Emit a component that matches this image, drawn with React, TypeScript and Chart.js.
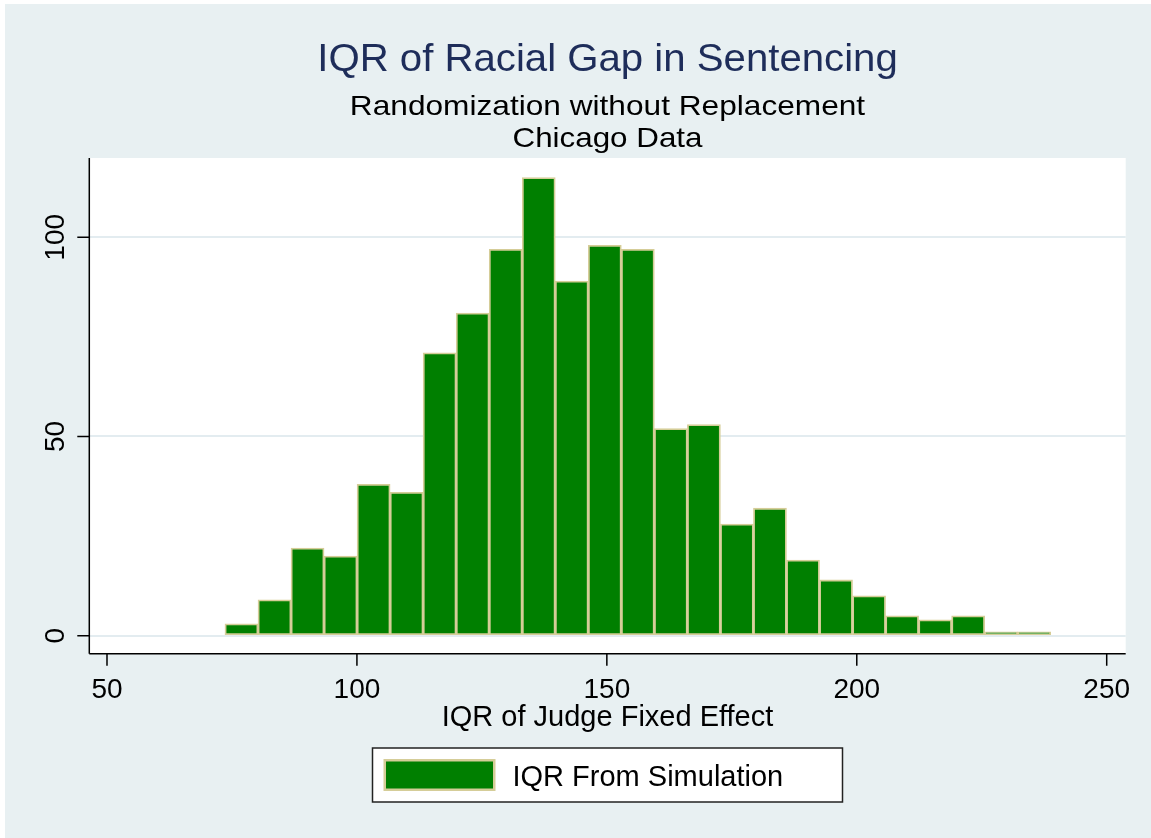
import { useEffect, useRef } from "react";
import { Chart, registerables } from "chart.js";

Chart.register(...registerables);

// ---- data ----
const titleText = "IQR of Racial Gap in Sentencing";
const subtitleLines = ["Randomization without Replacement", "Chicago Data"];
const xAxisTitle = "IQR of Judge Fixed Effect";
const legendLabel = "IQR From Simulation";

const binStart = 73.6;
const binWidth = 6.608;
const binCounts = [3, 9, 22, 20, 38, 36, 71, 81, 97, 115, 89, 98, 97, 52, 53, 28, 32, 19, 14, 10, 5, 4, 5, 1, 1];
const xTicks = [50, 100, 150, 200, 250];
const yTicks = [0, 50, 100];
const xRange = [46.46, 253.8];
const yRange = [-4.52, 119.9];

// ---- styles ----
const FONT = '"Liberation Sans", Arial, Helvetica, sans-serif';
const BG = "#e8f0f2";
const GRID = "#e3ecf0";
const BAR = "#007f00";
const BAR_EDGE = "#d5cd98";
const TITLE = "#1e2d5a";

function drawText(
  ctx: CanvasRenderingContext2D,
  s: string,
  x: number,
  y: number,
  size: number,
  color: string,
  align: CanvasTextAlign,
  sx = 1,
  rot = 0
) {
  ctx.save();
  ctx.font = `${size}px ${FONT}`;
  ctx.fillStyle = color;
  ctx.textBaseline = "alphabetic";
  ctx.textAlign = align;
  ctx.translate(x, y);
  if (rot) ctx.rotate(rot);
  ctx.scale(sx, 1);
  ctx.fillText(s, 0, 0);
  ctx.restore();
}

const decorPlugin = {
  id: "decor",
  beforeDraw(chart: any) {
    const ctx: CanvasRenderingContext2D = chart.ctx;
    const { left, right, top, bottom } = chart.chartArea;
    ctx.save();
    ctx.fillStyle = "#ffffff";
    ctx.fillRect(0, 0, chart.width, chart.height);
    ctx.fillStyle = BG;
    ctx.fillRect(5, 4, chart.width - 5, chart.height - 4);
    ctx.fillStyle = "#ffffff";
    ctx.fillRect(left, top, right - left, bottom - top);
    ctx.restore();
  },
  afterDraw(chart: any) {
    const ctx: CanvasRenderingContext2D = chart.ctx;
    const { left, right, top, bottom } = chart.chartArea;
    const xs = chart.scales.x;
    const ys = chart.scales.y;
    const cx = (left + right) / 2;

    ctx.save();
    ctx.strokeStyle = "#000";
    ctx.lineWidth = 1.5;
    ctx.beginPath();
    ctx.moveTo(left, top);
    ctx.lineTo(left, bottom);
    ctx.moveTo(left, bottom);
    ctx.lineTo(right, bottom);
    ctx.stroke();
    ctx.beginPath();
    for (const v of yTicks) {
      const p = ys.getPixelForValue(v);
      ctx.moveTo(left - 12, p);
      ctx.lineTo(left, p);
    }
    for (const v of xTicks) {
      const p = xs.getPixelForValue(v);
      ctx.moveTo(p, bottom);
      ctx.lineTo(p, bottom + 12);
    }
    ctx.stroke();
    ctx.restore();

    for (const v of xTicks) {
      drawText(ctx, String(v), xs.getPixelForValue(v), bottom + 44.6, 28, "#000", "center");
    }
    for (const v of yTicks) {
      drawText(ctx, String(v), left - 25.5, ys.getPixelForValue(v), 28, "#000", "center", 1, -Math.PI / 2);
    }

    drawText(ctx, titleText, cx, 70.7, 39, TITLE, "center", 1.03);
    drawText(ctx, subtitleLines[0], cx, 115, 28, "#000", "center", 1.13);
    drawText(ctx, subtitleLines[1], cx, 146.7, 28, "#000", "center", 1.12);
    drawText(ctx, xAxisTitle, cx, bottom + 72.3, 29, "#000", "center");

    const bw = 470;
    const bx = cx - bw / 2;
    const by = 748;
    const bh = 54;
    ctx.save();
    ctx.fillStyle = "#ffffff";
    ctx.fillRect(bx, by, bw, bh);
    ctx.strokeStyle = "#222";
    ctx.lineWidth = 1.5;
    ctx.strokeRect(bx, by, bw, bh);
    ctx.fillStyle = BAR_EDGE;
    ctx.fillRect(bx + 11, by + 11, 112, 32);
    ctx.fillStyle = BAR;
    ctx.fillRect(bx + 13.5, by + 13.5, 107, 27);
    ctx.restore();
    drawText(ctx, legendLabel, bx + 140, by + 37.7, 29, "#000", "left");
  },
};

export default function App() {
  const ref = useRef<HTMLCanvasElement>(null);
  useEffect(() => {
    document.body.style.margin = "0";
    const canvas = ref.current!;
    const chart = new Chart(canvas, {
      type: "bar",
      data: {
        datasets: [
          {
            label: legendLabel,
            data: binCounts.map((c, i) => ({ x: binStart + binWidth * (i + 0.5), y: c })),
            backgroundColor: BAR,
            borderColor: BAR_EDGE,
            borderWidth: 1.8,
            borderSkipped: false,
            barPercentage: 1,
            categoryPercentage: 1,
          },
        ],
      },
      options: {
        animation: false,
        responsive: false,
        devicePixelRatio: 1,
        layout: { padding: { left: 89.3, top: 158, right: 25.3, bottom: 184.3 } },
        plugins: {
          legend: { display: false },
          title: { display: false },
          tooltip: { enabled: false },
        },
        scales: {
          x: {
            type: "linear",
            min: xRange[0],
            max: xRange[1],
            offset: false,
            grid: { display: false, drawTicks: false },
            border: { display: false },
            ticks: { display: false },
            afterBuildTicks: (s: any) => {
              s.ticks = xTicks.map((v) => ({ value: v }));
            },
            afterFit: (s: any) => {
              s.height = 0;
            },
          },
          y: {
            type: "linear",
            min: yRange[0],
            max: yRange[1],
            grid: { color: GRID, lineWidth: 2, drawTicks: false },
            border: { display: false },
            ticks: { display: false },
            afterBuildTicks: (s: any) => {
              s.ticks = yTicks.map((v) => ({ value: v }));
            },
            afterFit: (s: any) => {
              s.width = 0;
            },
          },
        },
      } as any,
      plugins: [decorPlugin],
    });
    return () => chart.destroy();
  }, []);
  return (
    <div style={{ width: 1151, height: 838 }}>
      <canvas ref={ref} width={1151} height={838} style={{ display: "block", width: 1151, height: 838 }} />
    </div>
  );
}
